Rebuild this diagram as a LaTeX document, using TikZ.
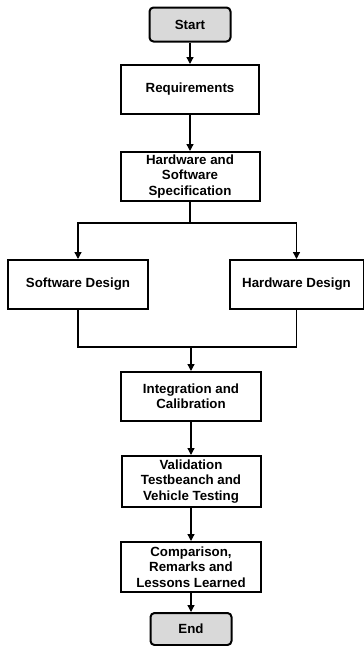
\documentclass[tikz,border=0pt]{standalone}
\usepackage{fontspec}
\setmainfont{Liberation Sans}
\usepackage{tikz}
\usetikzlibrary{arrows.meta}
\usetikzlibrary{positioning}
\definecolor{termgray}{RGB}{217,217,217}

\begin{document}
\begin{tikzpicture}[x=1pt, y=-1pt]
	\tikzstyle{box}=[rectangle, draw, line width=2pt, fill=white, inner sep=0pt,
	                        align=center, font=\fontsize{13.3}{15.3}\selectfont\bfseries];
	\tikzstyle{term}=[box, rounded corners=4pt, fill=termgray, minimum width=81pt];
	\tikzstyle{arr}=[line width=1.3pt, -{Triangle[width=7pt, length=7pt]}];
	\tikzstyle{ln}=[line width=1.3pt];
	\useasboundingbox (0,0) rectangle (364,646);
	\node[term, minimum height=34pt] (start) at (190,24.5) {Start};
	\node[box, minimum width=138pt, minimum height=49pt] (req) at (190,89.5) {Requirements};
	\node[box, minimum width=139pt, minimum height=49pt] (spec) at (190,176.5)
		{Hardware and\\Software\\Specification};
	\node[box, minimum width=140pt, minimum height=49pt] (sw) at (78,284.5) {Software Design};
	\node[box, minimum width=134pt, minimum height=49pt] (hw) at (296.5,284.5) {Hardware Design};
	\node[box, minimum width=140pt, minimum height=49pt] (int) at (191,396.5)
		{Integration and\\Calibration};
	\node[box, minimum width=139pt, minimum height=51pt] (val) at (191,481.5)
		{Validation\\Testbeanch and\\Vehicle Testing};
	\node[box, minimum width=140pt, minimum height=50pt] (comp) at (191,567)
		{Comparison,\\Remarks and\\Lessons Learned};
	\node[term, minimum height=32pt] (end) at (191,629) {End};
	\coordinate (split) at (190,223);
	\coordinate (merge) at (191,347);
	\draw[arr] (start) -- (req);
	\draw[arr] (req) -- (spec);
	\draw[ln] (spec) -- (split);
	\draw[arr] (split) -| (sw.north);
	\draw[arr] (split) -| (hw.north);
	\draw[ln] (sw.south) |- (merge) -| (hw.south);
	\draw[arr] (merge) -- (int);
	\draw[arr] (int) -- (val);
	\draw[arr] (val) -- (comp);
	\draw[arr] (comp) -- (end);
\end{tikzpicture}
\end{document}
